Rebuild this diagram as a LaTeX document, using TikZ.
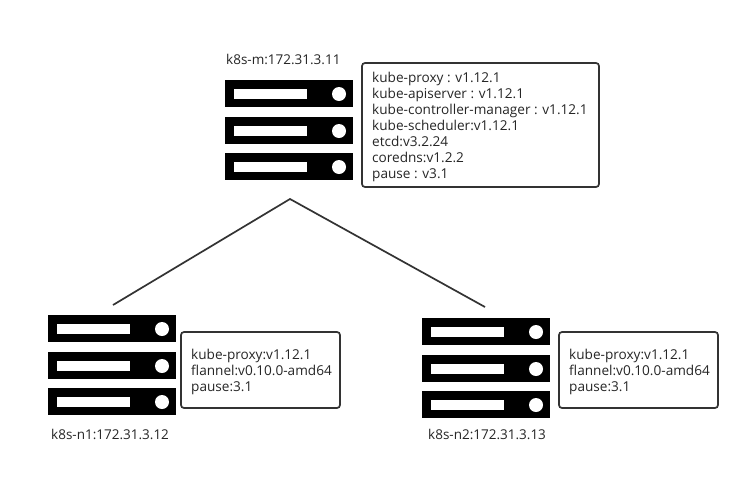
\documentclass[tikz,border=0pt]{standalone}
\usepackage{fontspec}
\setmainfont{Open Sans}
\tikzset{
  unit/.style={draw=none,fill=black,minimum width=128pt,minimum height=27pt,inner sep=0pt,outer sep=0pt},
  slot/.style={draw=none,fill=white,minimum width=73pt,minimum height=10pt,inner sep=0pt},
  led/.style={circle,draw=none,fill=white,minimum size=14pt,inner sep=0pt},
  infobox/.style={draw=black!80,line width=1.7pt,rounded corners=3pt,fill=white,inner sep=0pt,outer sep=0pt},
  infotext/.style={anchor=north west,inner sep=0pt,align=left,font=\fontsize{13.6}{16}\selectfont,text=black!85},
  hostlabel/.style={anchor=west,inner sep=0pt,font=\fontsize{13.5}{15}\selectfont,text=black!85},
  link/.style={draw=black!80,line width=1.7pt}
}
\newcommand{\rackunit}[3]{%
  \node[unit] (#1) at (#2+64,#3+13.5) {};
  \node[slot] (#1s) at (#2+45.5,#3+14) {};
  \node[led] (#1l) at (#2+114,#3+14) {};
}
\begin{document}
\begin{tikzpicture}[x=1pt,y=-1pt]
\useasboundingbox (0,0) rectangle (749,477);
\fill[white] (0,0) rectangle (749,477);
% master
\rackunit{ma}{225}{80}
\rackunit{mb}{225}{117}
\rackunit{mc}{225}{153}
\node[hostlabel] (mlabel) at (226,59.5) {k8s-m:172.31.3.11};
\node[infobox,minimum width=237pt,minimum height=124pt] (mbox) at (480.5,125) {};
\node[infotext] (mtext) at (372,71.5) {kube-proxy : v1.12.1\\kube-apiserver : v1.12.1\\kube-controller-manager : v1.12.1\\kube-scheduler:v1.12.1\\etcd:v3.2.24\\coredns:v1.2.2\\pause : v3.1};
% node 1
\rackunit{aa}{48}{315}
\rackunit{ab}{48}{352}
\rackunit{ac}{48}{388}
\node[hostlabel] (alabel) at (51,434.5) {k8s-n1:172.31.3.12};
\node[infobox,minimum width=159pt,minimum height=76pt] (abox) at (260.5,370) {};
\node[infotext] (atext) at (191,348.5) {kube-proxy:v1.12.1\\flannel:v0.10.0-amd64\\pause:3.1};
% node 2
\rackunit{ba}{422}{318}
\rackunit{bb}{422}{355}
\rackunit{bc}{422}{391}
\node[hostlabel] (blabel) at (428,434.5) {k8s-n2:172.31.3.13};
\node[infobox,minimum width=159pt,minimum height=76pt] (bbox) at (638.5,370) {};
\node[infotext] (btext) at (569,348.5) {kube-proxy:v1.12.1\\flannel:v0.10.0-amd64\\pause:3.1};
% links
\coordinate (apex) at (290,199);
\coordinate (left) at (113,305);
\coordinate (right) at (485,307);
\draw[link] (left) -- (apex) -- (right);
\end{tikzpicture}
\end{document}
